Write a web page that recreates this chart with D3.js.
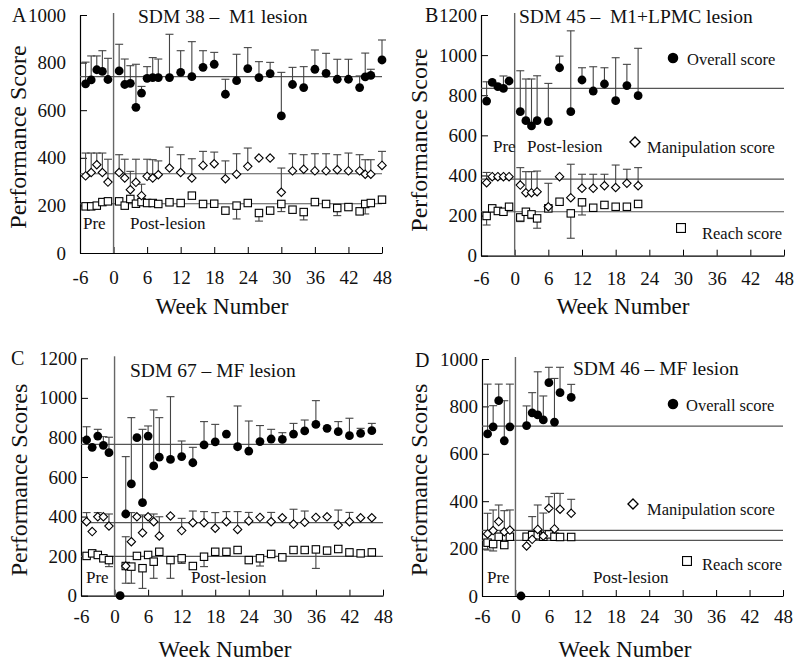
<!DOCTYPE html>
<html lang="en">
<head>
    <meta charset="UTF-8">
    <title>Performance scores after lesion</title>
    <script src="https://d3js.org/d3.v7.min.js"></script>
    <style>
        body {
            margin: 0;
            background-color: #ffffff;
        }
        text {
            font-family: 'Liberation Serif', 'Times New Roman', serif;
            fill: #111;
            white-space: pre;
        }
    </style>
</head>
<body>
    <script>
        // ---- Data ----
        // Panel A: SDM 38 - M1 lesion
        const weeksA = [-5,-4,-3,-2,-1,1,2,3,4,5,6,7,8,10,12,14,16,18,20,22,24,26,28,30,32,34,36,38,40,42,44,45,46,48];
        const overallA = [711,727,770,763,729,765,708,713,612,672,734,737,737,737,759,741,780,793,667,724,775,737,754,576,708,695,772,755,730,730,695,740,746,811];
        const overallHiA = [802,828,828,850,818,877,815,787,793,700,783,821,815,919,850,888,850,843,730,835,863,804,801,759,780,783,853,839,814,814,744,840,772,895];
        const manipA = [324,338,371,338,298,338,315,266,297,241,322,315,329,357,338,315,368,375,312,331,364,399,399,255,345,352,345,345,350,345,345,331,331,368];
        const manipHiA = [420,420,420,420,394,413,394,343,394,289,394,392,387,445,413,396,427,424,387,417,441,null,null,357,417,413,417,417,413,420,413,392,392,427];
        const reachA = [196,196,199,214,217,217,199,227,207,214,210,210,206,213,210,241,206,207,178,199,210,168,178,206,182,172,214,206,189,193,175,206,210,224];
        const reachLoA = [null,null,null,null,null,null,null,null,null,null,null,null,null,null,null,null,null,null,null,143,null,134,null,174,null,139,null,null,157,null,null,164,null,null];
        const baseA = [741, 333, 207];

        // Panel B: SDM 45 - M1+LPMC lesion
        const weeksB = [-5,-4,-3,-2,-1,1,2,3,4,6,8,10,12,14,16,18,20,22];
        const overallB = [771,864,843,834,871,718,673,647,673,668,937,718,876,821,856,773,848,798];
        const overallHiB = [867,null,null,896,null,922,881,881,897,859,995,1121,937,942,937,987,954,1034];
        const manipB = [364,394,394,394,394,352,314,314,319,244,394,289,336,336,349,340,361,349];
        const manipHiB = [415,null,null,null,null,439,419,419,422,361,null,456,406,406,406,452,431,439];
        const reachB = [198,236,223,219,244,191,219,206,186,236,269,211,266,239,253,244,244,258];
        const reachLoB = [153,null,null,null,null,170,null,185,137,null,null,87,203,null,null,null,null,null];
        const baseB = [834, 382, 219];

        // Panel C: SDM 67 - MF lesion
        const weeksC = [-5,-4,-3,-2,-1,1,2,3,4,5,6,7,8,10,12,14,16,18,20,22,24,26,28,30,32,34,36,38,40,42,44,46];
        const overallC = [787,750,807,760,723,0,413,565,799,470,807,656,700,689,703,672,762,778,817,753,731,779,792,790,817,833,866,846,829,809,821,834];
        const overallHiC = [854,null,841,804,801,null,703,900,null,841,858,939,900,1006,782,750,880,866,null,959,883,860,841,824,871,888,986,null,880,897,846,871];
        const manipC = [374,324,399,399,352,null,150,273,399,318,399,374,302,403,329,369,369,341,374,335,378,396,374,394,362,371,396,399,357,374,394,394];
        const manipHiC = [420,null,420,null,413,null,null,420,null,408,null,413,399,null,391,428,425,420,425,425,421,null,421,null,437,428,null,null,433,421,null,null];
        const reachC = [201,214,206,189,180,null,150,147,201,139,206,172,222,180,189,150,197,222,222,231,180,189,211,194,231,231,234,228,236,219,214,219];
        const reachHiC = [null,null,null,null,null,null,298,null,null,null,null,null,null,null,null,null,null,null,null,null,null,null,null,null,null,null,null,null,null,null,null,null];
        const reachLoC = [null,null,null,null,147,null,63,63,null,37,null,88,null,88,163,null,147,null,null,null,null,150,null,null,null,null,138,null,null,null,null,null];
        const baseC = [765, 369, 199];

        // Panel D: SDM 46 - MF lesion
        const weeksD = [-5,-4,-3,-2,-1,1,2,3,4,5,6,7,8,10];
        const overallD = [684,714,824,655,714,0,719,773,764,743,900,734,858,838];
        const overallHiD = [894,803,894,824,894,null,802,858,946,844,965,918,965,893];
        const manipD = [262,276,314,271,278,null,211,239,281,253,370,283,366,349];
        const manipHiD = [349,363,384,360,363,null,null,335,384,350,419,433,433,408];
        const reachD = [225,219,250,215,250,null,250,257,256,250,260,250,249,249];
        const reachLoD = [194,190,null,null,null,null,null,null,null,null,null,null,null,null];
        const baseD = [717, 277, 235];

        const xTicks = [-6,0,6,12,18,24,30,36,42,48];

        const serif = "'Liberation Serif', 'Times New Roman', serif";

        // ---- Panel layout ----
        const panels = [
            {letter: "A", title: "SDM 38 \u2013  M1 lesion", yLabel: "Performance Score", yMax: 1000,
             weeks: weeksA, overall: overallA, overallHi: overallHiA, manip: manipA, manipHi: manipHiA,
             reach: reachA, reachLo: reachLoA, base: baseA,
             x0: 80, x1: 382, yb: 253, yt: 15, pad: 14, xlabDy: 18, legend: false,
             titleX: 138, titleY: 23, letterX: 12, letterY: 22, preX: 83, postX: 130, preY: 229,
             yTitleX: 26, yTitleY: 137, xTitleX: 222, xTitleY: 314},
            {letter: "B", title: "SDM 45 \u2013  M1+LPMC lesion", yLabel: "Performance Score", yMax: 1200,
             weeks: weeksB, overall: overallB, overallHi: overallHiB, manip: manipB, manipHi: manipHiB,
             reach: reachB, reachLo: reachLoB, base: baseB,
             x0: 481, x1: 784, yb: 255.7, yt: 15, pad: 4, xlabDy: 16, legend: true,
             legY: [58, 142, 228], legX: [673, 635, 681], legTX: [687, 647, 702], legTY: [65, 153, 239],
             titleX: 519, titleY: 23, letterX: 425, letterY: 22, preX: 493, postX: 527, preY: 152,
             yTitleX: 427, yTitleY: 140, xTitleX: 623, xTitleY: 314},
            {letter: "C", title: "SDM 67 \u2013 MF lesion", yLabel: "Performance Scores", yMax: 1200,
             weeks: weeksC, overall: overallC, overallHi: overallHiC, manip: manipC, manipHi: manipHiC,
             reach: reachC, reachLo: reachLoC, reachHi: reachHiC, base: baseC,
             x0: 81, x1: 383, yb: 595.7, yt: 358.3, pad: 4, xlabDy: 14, legend: false,
             titleX: 130, titleY: 377, letterX: 11, letterY: 365, preX: 86, postX: 191, preY: 583,
             yTitleX: 27, yTitleY: 480, xTitleX: 225, xTitleY: 657},
            {letter: "D", title: "SDM 46 \u2013 MF lesion", yLabel: "Performance Scores", yMax: 1000,
             weeks: weeksD, overall: overallD, overallHi: overallHiD, manip: manipD, manipHi: manipHiD,
             reach: reachD, reachLo: reachLoD, base: baseD,
             x0: 482, x1: 783, yb: 596, yt: 359, pad: 4, xlabDy: 14, legend: true,
             legY: [404, 504, 561], legX: [673, 633, 687], legTX: [686, 647, 702], legTY: [411, 515, 570],
             titleX: 573, titleY: 375, letterX: 415, letterY: 367, preX: 487, postX: 593, preY: 583,
             yTitleX: 427, yTitleY: 480, xTitleX: 625, xTitleY: 657}
        ];

        const svg = d3.select("body").append("svg")
            .attr("width", 800)
            .attr("height", 665)
            .attr("font-family", serif);

        const diamond = "M0,-4.2L4.2,0L0,4.2L-4.2,0Z";

        function drawMarker(g, kind, x, y, big) {
            const s = big ? 1.2 : 1;
            if (kind === "overall") {
                g.append("circle").attr("cx", x).attr("cy", y).attr("r", 4.4 * s).attr("fill", "#000");
            } else if (kind === "manip") {
                g.append("path").attr("d", diamond)
                    .attr("transform", `translate(${x},${y}) scale(${s})`)
                    .attr("fill", "#fff").attr("stroke", "#000").attr("stroke-width", 1.1);
            } else {
                const h = 3.7 * s;
                g.append("rect").attr("x", x - h).attr("y", y - h).attr("width", 2 * h).attr("height", 2 * h)
                    .attr("fill", "#fff").attr("stroke", "#000").attr("stroke-width", 1.1);
            }
        }

        panels.forEach(function(p) {
            const x = d3.scaleLinear().domain([-6, 48]).range([p.x0, p.x1]);
            const y = d3.scaleLinear().domain([0, p.yMax]).range([p.yb, p.yt]);
            const g = svg.append("g");

            // Axes (ticks point inwards)
            g.append("g")
                .attr("transform", `translate(0,${p.yb})`)
                .call(d3.axisBottom(x).tickValues(xTicks).tickSizeInner(-6).tickSizeOuter(0)
                    .tickPadding(p.xlabDy).tickFormat(d => String(d)))
                .attr("font-family", serif)
                .call(a => a.select(".domain").attr("stroke", "#000").attr("stroke-width", 1.2))
                .call(a => a.selectAll(".tick line").attr("stroke", "#000"))
                .call(a => a.selectAll("text").style("font-size", "19px").style("font-family", serif).attr("fill", "#111"));

            g.append("g")
                .attr("transform", `translate(${p.x0},0)`)
                .call(d3.axisLeft(y).ticks(p.yMax / 200).tickSizeInner(-7).tickSizeOuter(0)
                    .tickPadding(p.pad).tickFormat(d => String(d)))
                .attr("font-family", serif)
                .call(a => a.select(".domain").attr("stroke", "#000").attr("stroke-width", 1.2))
                .call(a => a.selectAll(".tick line").attr("stroke", "#000"))
                .call(a => a.selectAll("text").style("font-size", "19px").style("font-family", serif).attr("fill", "#111"));

            // lesion line at week 0
            g.append("line")
                .attr("x1", x(0)).attr("x2", x(0))
                .attr("y1", y(0)).attr("y2", p.yt - 2)
                .attr("stroke", "#666").attr("stroke-width", 1.4);

            // pre-lesion mean lines
            p.base.forEach(function(b) {
                g.append("line")
                    .attr("x1", x(-6)).attr("x2", x(48))
                    .attr("y1", y(b)).attr("y2", y(b))
                    .attr("stroke", "#555").attr("stroke-width", 1.2);
            });

            // series
            const series = [
                {kind: "reach", v: p.reach, hi: p.reachHi, lo: p.reachLo},
                {kind: "manip", v: p.manip, hi: p.manipHi, lo: null},
                {kind: "overall", v: p.overall, hi: p.overallHi, lo: null}
            ];

            series.forEach(function(s) {
                const rows = p.weeks.map((w, i) => ({
                    w: w, v: s.v[i],
                    hi: s.hi ? s.hi[i] : null,
                    lo: s.lo ? s.lo[i] : null
                })).filter(d => d.v !== null);

                const eb = g.append("g").attr("stroke", "#444").attr("stroke-width", 1.1);
                rows.forEach(function(d) {
                    [d.hi, d.lo].forEach(function(e) {
                        if (e === null) return;
                        eb.append("line").attr("x1", x(d.w)).attr("x2", x(d.w))
                            .attr("y1", y(d.v)).attr("y2", y(e));
                        eb.append("line").attr("x1", x(d.w) - 4).attr("x2", x(d.w) + 4)
                            .attr("y1", y(e)).attr("y2", y(e));
                    });
                });
            });

            series.forEach(function(s) {
                p.weeks.forEach(function(w, i) {
                    if (s.v[i] === null) return;
                    drawMarker(g, s.kind, x(w), y(s.v[i]), false);
                });
            });

            // Texts
            g.append("text").attr("x", p.titleX).attr("y", p.titleY)
                .style("font-size", "19.5px").text(p.title);
            g.append("text").attr("x", p.letterX).attr("y", p.letterY)
                .style("font-size", "20px").text(p.letter);
            g.append("text").attr("x", p.preX).attr("y", p.preY)
                .style("font-size", "17px").text("Pre");
            g.append("text").attr("x", p.postX).attr("y", p.preY)
                .style("font-size", "17px").text("Post-lesion");
            g.append("text")
                .attr("transform", `translate(${p.yTitleX},${p.yTitleY}) rotate(-90)`)
                .attr("text-anchor", "middle")
                .style("font-size", "24px").text(p.yLabel);
            g.append("text").attr("x", p.xTitleX).attr("y", p.xTitleY)
                .attr("text-anchor", "middle")
                .style("font-size", "23px").text("Week Number");

            // Legend
            if (p.legend) {
                const names = ["Overall score", "Manipulation score", "Reach score"];
                const kinds = ["overall", "manip", "reach"];
                kinds.forEach(function(k, i) {
                    drawMarker(g, k, p.legX[i], p.legY[i], true);
                    g.append("text").attr("x", p.legTX[i]).attr("y", p.legTY[i])
                        .style("font-size", "16.5px").text(names[i]);
                });
            }
        });
    </script>
</body>
</html>
